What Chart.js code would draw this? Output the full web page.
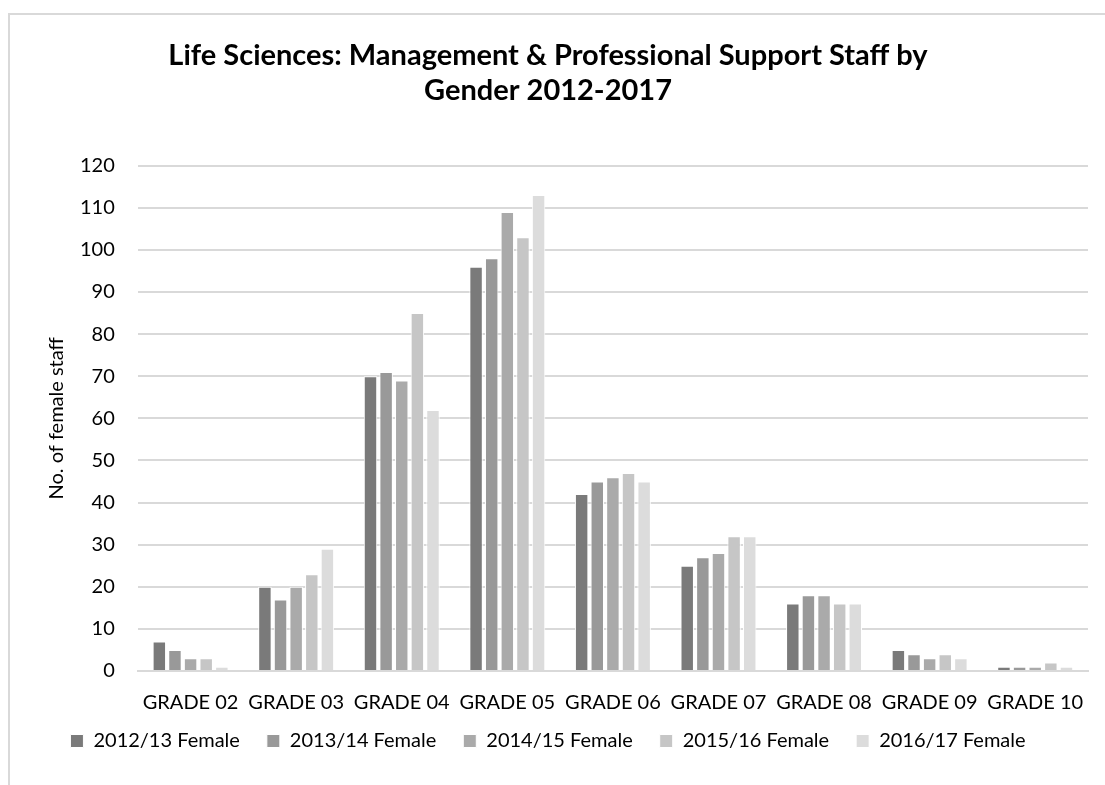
<!DOCTYPE html>
<html>
<head>
<meta charset="utf-8">
<script src="https://cdn.jsdelivr.net/npm/chart.js@4/dist/chart.umd.min.js"></script>
<style>
  html, body { margin: 0; padding: 0; background: #fff; }
  #wrap { position: relative; width: 1105px; height: 785px; overflow: hidden; }
  #frame { position: absolute; left: 8px; top: 13px; width: 1200px; height: 900px;
           border: 2px solid #d9d9d9; box-sizing: border-box; }
  #chart { position: absolute; left: 0; top: 0; }
</style>
</head>
<body>
<div id="wrap">
  <div id="frame"></div>
  <canvas id="chart" width="1105" height="785"></canvas>
</div>
<script>
var grades = ['GRADE 02', 'GRADE 03', 'GRADE 04', 'GRADE 05', 'GRADE 06',
              'GRADE 07', 'GRADE 08', 'GRADE 09', 'GRADE 10'];

var female1213 = [7, 20, 70, 96, 42, 25, 16, 5, 1];
var female1314 = [5, 17, 71, 98, 45, 27, 18, 4, 1];
var female1415 = [3, 20, 69, 109, 46, 28, 18, 3, 1];
var female1516 = [3, 23, 85, 103, 47, 32, 16, 4, 2];
var female1617 = [1, 29, 62, 113, 45, 32, 16, 3, 1];

var seriesNames = ['2012/13 Female', '2013/14 Female', '2014/15 Female',
                   '2015/16 Female', '2016/17 Female'];
var yTicks = [0, 10, 20, 30, 40, 50, 60, 70, 80, 90, 100, 110, 120];

var greys = ['#7a7a7a', '#999999', '#aaaaaa', '#c6c6c6', '#dcdcdc'];
var allSeries = [female1213, female1314, female1415, female1516, female1617];

var font = 'Lato, "Noto Sans", sans-serif';

// legend padding also spaces the rows, so start the legend box a bit higher
// (only the top moves, so the clip area still covers the labels)
var legendNudge = {
    id: 'legendNudge',
    afterLayout: function (chart) {
        chart.legend.top -= 31;
    }
};

function drawChart() {
    var ctx = document.getElementById('chart');

    var datasets = allSeries.map(function (vals, i) {
        return {
            label: seriesNames[i],
            data: vals,
            backgroundColor: greys[i],
            borderColor: '#ffffff',
            borderWidth: 1,
            barPercentage: 0.86,
            categoryPercentage: 0.74
        };
    });

    new Chart(ctx, {
        type: 'bar',
        data: { labels: grades, datasets: datasets },
        plugins: [legendNudge],
        options: {
            responsive: false,
            animation: false,
            layout: { padding: { left: 8, right: 17, top: 38, bottom: 10 } },
            plugins: {
                title: {
                    display: true,
                    text: ['Life Sciences: Management & Professional Support Staff by',
                           'Gender 2012-2017'],
                    color: '#000',
                    font: { family: font, size: 29, weight: 'bold', lineHeight: 1.2 },
                    padding: { top: 0, bottom: 58 }
                },
                legend: {
                    position: 'bottom',
                    maxHeight: 40,
                    labels: {
                        color: '#000',
                        boxWidth: 13,
                        boxHeight: 13,
                        padding: 27,
                        font: { family: font, size: 20 }
                    }
                },
                tooltip: { enabled: false }
            },
            scales: {
                x: {
                    grid: { display: false, drawTicks: false },
                    border: { display: true, color: '#d9d9d9', width: 2 },
                    ticks: { color: '#000', padding: 20, maxRotation: 0,
                             font: { family: font, size: 20 } }
                },
                y: {
                    min: 0,
                    max: 120,
                    afterBuildTicks: function (axis) {
                        axis.ticks = yTicks.map(function (v) { return { value: v }; });
                    },
                    grid: { color: '#d9d9d9', lineWidth: 2, drawTicks: false },
                    border: { display: false },
                    ticks: { color: '#000', padding: 23,
                             font: { family: font, size: 20 } },
                    title: {
                        display: true,
                        text: 'No. of female staff',
                        color: '#000',
                        font: { family: font, size: 20 },
                        padding: { top: 37, bottom: -12 }
                    }
                }
            }
        }
    });
}

drawChart();
</script>
</body>
</html>
